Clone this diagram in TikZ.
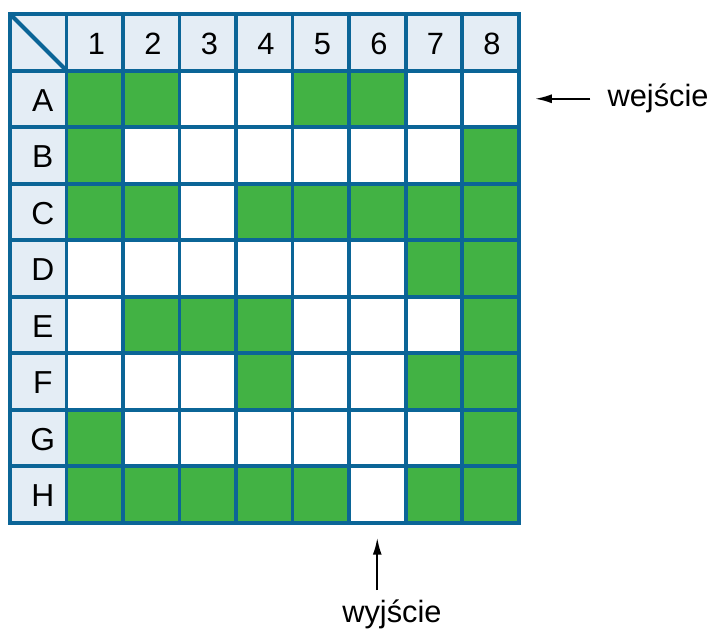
\documentclass[tikz,border=0pt]{standalone}
\usepackage{fontspec}
\setmainfont{Liberation Sans}
\usetikzlibrary{arrows.meta,positioning}
\definecolor{gridblue}{HTML}{0B6597}
\definecolor{headblue}{HTML}{E4EDF5}
\definecolor{mazegreen}{HTML}{42B244}

\begin{document}
\begin{tikzpicture}[x=1cm,y=-1cm,every node/.style={font=\fontsize{15.5}{18}\selectfont},
  cell/.style={minimum size=1cm,inner sep=0pt,outer sep=0pt},
  gridline/.style={draw=gridblue,line width=2pt},
  pointer/.style={-{Latex[length=8.5pt,width=4.5pt]},line width=1pt}]
\useasboundingbox (-0.177,-0.248) rectangle (12.46,10.90);
% header band
\fill[headblue] (0,0) rectangle (9,1);
\fill[headblue] (0,0) rectangle (1,9);
\node[cell] (corner) at (0.5,0.5) {};
\foreach \c in {1,...,8}
  \node[inner sep=0pt] (h\c) at (\c+0.53,0.53) {\c};
% maze cells
\foreach \r [count=\i] in {A,...,H} {
  \node[inner sep=0pt,font=\fontsize{16}{18}\selectfont] (\r0) at (0.58,\i+0.53) {\r};
  \foreach \c in {1,...,8}
    \node[cell] (\r\c) at (\c+0.5,\i+0.5) {};
}
\foreach \r/\list in {A/{1,2,5,6},B/{1,8},C/{1,2,4,5,6,7,8},D/{7,8},E/{2,3,4,8},F/{4,7,8},G/{1,8},H/{1,2,3,4,5,7,8}}
  \foreach \c in \list
    \fill[mazegreen] (\r\c.north west) rectangle (\r\c.south east);
\draw[gridline] (0,0) grid (9,9);
\draw[gridline] (0,0) rectangle (9,9);
\draw[gridline] (corner.north west) -- (corner.south east);
% entrance and exit
\node[inner sep=0pt,anchor=west] (wej) at (10.57,1.5) {wejście};
\node[inner sep=0pt] (wyj) at (6.76,10.62) {wyjście};
\draw[pointer,shorten <=0.3cm,shorten >=0.29cm] (wej.west) -- (A8.east);
\draw[pointer,shorten <=0.16cm,shorten >=0.27cm] (H6.south |- wyj.north) -- (H6.south);
\end{tikzpicture}
\end{document}
